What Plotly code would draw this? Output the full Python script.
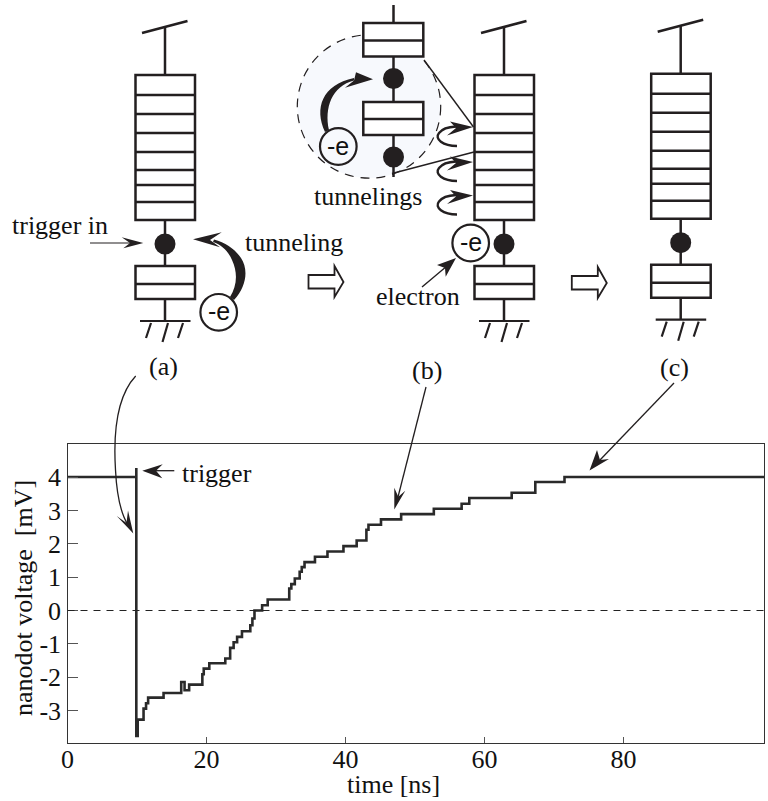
import plotly.graph_objects as go

# ---- chart data ----
time_ns = [0, 9.9, 9.9, 10.1, 10.94, 11.3, 11.6, 13.82, 16.36, 16.84, 17.1, 17.5, 19.4, 19.6, 20.4,
           22.7, 23.4, 23.9, 24.4, 25.1, 26.3, 26.6, 26.9, 28.0, 28.8, 31.9, 32.2, 32.7, 33.4, 33.7,
           34.1, 35.6, 37.4, 39.7, 41.6, 43.0, 43.3, 45.1, 48.0, 52.7, 56.7, 57.8, 63.9, 67.3, 71.5, 100.2]
voltage_mV = [4.0, 4.27, -3.76, -3.27, -2.94, -2.78, -2.61, -2.47, -2.14, -2.39, -2.39, -2.22, -1.91, -1.74, -1.58,
              -1.44, -1.12, -0.95, -0.79, -0.62, -0.44, -0.24, 0.0, 0.16, 0.33, 0.66, 0.79, 0.96, 1.16, 1.3,
              1.45, 1.61, 1.77, 1.93, 2.10, 2.42, 2.57, 2.73, 2.89, 3.05, 3.20, 3.37, 3.53, 3.85, 4.0, 4.0]
x_ticks = [0, 20, 40, 60, 80]
y_ticks = [-3, -2, -1, 0, 1, 2, 3, 4]
y_tick_labels = ["-3", "-2", "-1", "0", "1", "2", "3", "4"]
stack_dividers = [95, 114, 133, 152, 170, 185, 202]

W, H = 768, 801
INK = "#231f20"
SERIF = "Liberation Serif"
SANS = "Liberation Sans"
shapes = []
annots = []


def ln(x0, y0, x1, y1, w=2.5, color=INK, dash=None):
    shapes.append(dict(type="line", xref="x2", yref="y2", x0=x0, y0=y0, x1=x1, y1=y1,
                       line=dict(width=w, color=color, dash=dash)))


def rect(x0, y0, x1, y1, w=2.5, fill="white"):
    shapes.append(dict(type="rect", xref="x2", yref="y2", x0=x0, y0=y0, x1=x1, y1=y1,
                       fillcolor=fill, line=dict(width=w, color=INK)))


def circ(cx, cy, r, fill=INK, w=0.0, dash=None, color=INK):
    shapes.append(dict(type="circle", xref="x2", yref="y2", x0=cx - r, y0=cy - r, x1=cx + r, y1=cy + r,
                       fillcolor=fill, line=dict(width=w, color=color, dash=dash)))


def path(d, fill=INK, w=0.0, color=INK):
    shapes.append(dict(type="path", xref="x2", yref="y2", path=d, fillcolor=fill,
                       line=dict(width=w, color=color)))


def head(tip, b1, b2, notch):
    path(f"M{tip[0]} {tip[1]} L{b1[0]} {b1[1]} L{notch[0]} {notch[1]} L{b2[0]} {b2[1]} Z")


def text(x, y, s, size=26, anchor="left", font=SERIF, angle=0):
    annots.append(dict(xref="x2", yref="y2", x=x, y=y, text=s, showarrow=False, xanchor=anchor,
                       yanchor="middle", textangle=angle, borderpad=0,
                       font=dict(family=font, size=size, color="#111111")))


def circuit(dx, dy=0.0):
    ln(142 + dx, 33 + dy, 187.5 + dx, 21 + dy, 2.6)
    ln(165 + dx, 27 + dy, 165 + dx, 75 + dy)
    rect(135.5 + dx, 75 + dy, 195 + dx, 220 + dy)
    for y in stack_dividers:
        ln(135.5 + dx, y + dy, 195 + dx, y + dy)
    ln(165 + dx, 220 + dy, 165 + dx, 266 + dy)
    circ(165 + dx, 244 + dy, 10.5)
    rect(135.5 + dx, 266 + dy, 195 + dx, 299 + dy)
    ln(135.5 + dx, 284 + dy, 195 + dx, 284 + dy)
    ln(165 + dx, 299 + dy, 165 + dx, 321 + dy)
    ln(140 + dx, 321 + dy, 190.5 + dx, 321 + dy, 2.2)
    ln(151 + dx, 323 + dy, 146 + dx, 338 + dy, 2.2)
    ln(168 + dx, 323 + dy, 162.5 + dx, 342 + dy, 2.2)
    ln(183 + dx, 323 + dy, 178 + dx, 338 + dy, 2.2)


def electron(cx, cy, fill="white"):
    circ(cx, cy, 18.3, fill=fill, w=2.2)
    text(cx, cy - 1, "-e", 25, "center", SANS)


def block_arrow(dx, dy, sx=1.0):
    path(f"M{308.5+dx} {275+dy} L{334.5+dx} {275+dy} L{334.5+dx} {266+dy} L{343.5+dx} {282+dy} "
         f"L{334.5+dx} {297+dy} L{334.5+dx} {288.5+dy} L{308.5+dx} {288.5+dy} Z",
         fill="white", w=1.8)


# inset bubble of (b)
circ(369, 106.5, 71.7, fill="#f7f9fd", w=1.2, dash="9px,7px")
ln(424, 60, 473.5, 127, 1.4)
ln(392, 173.5, 474, 152, 1.4)

circuit(0)
circuit(339)
circuit(515.7, -1.3)

# inset circuit
ln(393.5, 5, 393.5, 177)
rect(363.3, 23, 423.3, 56.5)
ln(363.3, 40.6, 423.3, 40.6)
circ(393.5, 78.5, 10.5)
rect(363.3, 102, 423.3, 135)
ln(363.3, 119, 423.3, 119)
circ(393.5, 157, 10.5)

# tunnelling in (a)
electron(218.7, 312.3)
path("M234 300 C 246 287, 249 270, 241 258 C 235 249, 226 243, 214 239.5 "
     "L 213 242 C 222 245, 228 251, 232 260 C 238 273, 237 286, 230 297 Z")
head((193, 239.3), (221.7, 232.3), (220, 247.3), (210, 240))

# trigger in
ln(90, 243, 130, 243, 1.2)
head((143.3, 243), (121.7, 237.3), (123.3, 248.3), (130, 243))

# tunnelling in inset
electron(338.3, 146.5, fill="#f7f9fd")
path("M325 132 C 314 108, 322 85, 354 78 L 354 80.5 C 332 86, 324 108, 329 130 Z")
head((373, 79.3), (356, 72.3), (345, 87.7), (354, 80.5))

# small tunnellings in (b)
for off in (0.0, 35.0, 68.5):
    path(f"M457 {146+off} C 443 {146+off}, 434 {139+off}, 439 {133+off} "
         f"C 442 {129+off}, 447 {127+off}, 456 {126.5+off}",
         fill="rgba(0,0,0,0)", w=2.4)
    head((473, 127 + off), (450, 121.5 + off), (447, 135.5 + off), (456, 128 + off))

# electron in (b)
electron(470.7, 243)
ln(422, 287, 447, 266, 1.4)
head((456, 258), (437, 265), (445.7, 276.7), (445, 268))

# block arrows
block_arrow(0, 0)
block_arrow(263.3, 1)

# pointers from (a), (b), (c) to the trace
shapes.append(dict(type="path", xref="x2", yref="y2",
                   path="M135.7 376 C 118 395, 113 430, 115.5 470 C 117 500, 123 517, 128 525",
                   line=dict(width=1.3, color=INK)))
head((133.3, 533.5), (116.7, 516), (128, 510.5), (126.5, 523))
ln(426, 387, 398, 497, 1.3)
head((394.3, 509.5), (394.3, 487.7), (405.3, 490.7), (398.3, 496.7))
ln(674, 383, 600, 460, 1.3)
head((589.5, 470.5), (597, 450), (609, 459), (600, 460))

# trigger pointer
ln(156, 470.7, 174.3, 470.7, 1.3)
head((142.3, 470.7), (162.7, 464.3), (162.3, 478.3), (156, 470.7))

# labels
text(11, 225, "trigger in")
text(244, 242, "tunneling")
text(313, 196, "tunnelings")
text(375, 296, "electron")
text(163, 366, "(a)", 26, "center")
text(426.7, 370, "(b)", 26, "center")
text(674, 367, "(c)", 26, "center")
text(181, 473, "trigger")
text(393, 784, "time [ns]", 26, "center")
text(23, 598, "nanodot voltage  [mV]", 26, "center", angle=-90)

# zero line
zero_line = dict(type="line", xref="x", yref="y", x0=0, x1=100.2, y0=0, y1=0,
                 line=dict(width=1.2, color="#222222", dash="7px,6px"))

fig = go.Figure()
fig.add_trace(go.Scatter(x=time_ns, y=voltage_mV, mode="lines", showlegend=False, hoverinfo="skip",
                         line=dict(shape="hv", width=2.6, color="#2a2a2a")))
fig.add_trace(go.Scatter(x=[], y=[], xaxis="x2", yaxis="y2", showlegend=False, hoverinfo="skip"))

fig.update_layout(
    width=W, height=H, margin=dict(l=0, r=0, t=0, b=0, autoexpand=False), paper_bgcolor="white",
    plot_bgcolor="rgba(0,0,0,0)", showlegend=False,
    font=dict(family=SERIF, size=26, color="#111111"),
    xaxis=dict(domain=[67.5 / W, 764 / W], range=[0, 100.2], tickmode="array", tickvals=x_ticks,
               ticks="inside", ticklen=6, tickwidth=1.2, tickcolor="#555555", showgrid=False, zeroline=False,
               showline=True, linecolor="#333333", linewidth=1.4, mirror=True, anchor="y", automargin=False,
               ticklabelstandoff=-7, tickfont=dict(family=SERIF, size=26, color="#111111")),
    yaxis=dict(domain=[1 - 743 / H, 1 - 444 / H], range=[-3.97, 4.99], tickmode="array", tickvals=y_ticks,
               ticktext=y_tick_labels, ticks="inside", ticklen=10, tickwidth=1.2, tickcolor="#555555",
               showgrid=False, zeroline=False, showline=True, linecolor="#333333", linewidth=1.4, mirror=True,
               anchor="x", automargin=False, tickfont=dict(family=SERIF, size=26, color="#111111")),
    xaxis2=dict(domain=[0, 1], range=[0, W], visible=False, anchor="y2", fixedrange=True),
    yaxis2=dict(domain=[0, 1], range=[H, 0], visible=False, anchor="x2", fixedrange=True),
    shapes=[zero_line] + shapes,
    annotations=annots,
)
fig.write_html("out.html", post_script="document.body.style.margin='0';document.body.style.overflow='hidden';",
               config=dict(displayModeBar=False))
